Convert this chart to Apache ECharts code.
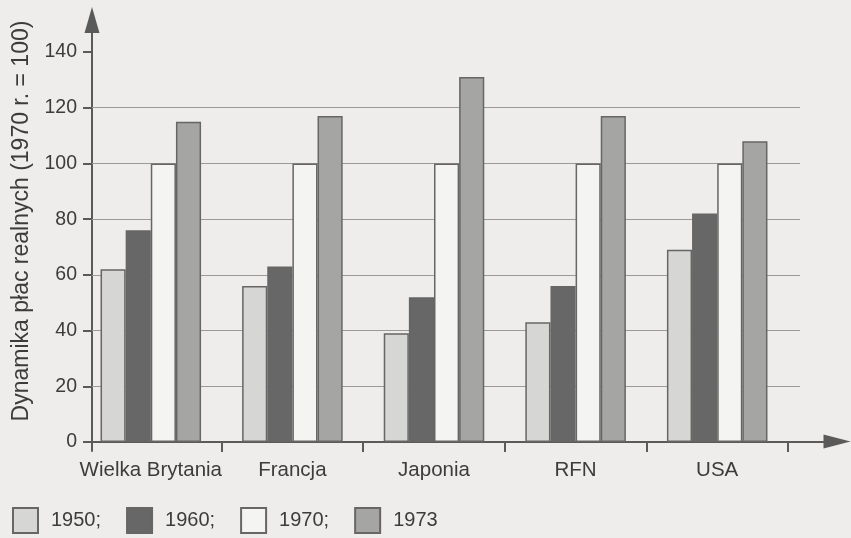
<!DOCTYPE html>
<html>
<head>
<meta charset="utf-8">
<script src="https://cdn.jsdelivr.net/npm/echarts@6/dist/echarts.min.js"></script>
<style>
html,body{margin:0;padding:0;background:#eeedeb;}
#chart{width:851px;height:538px;}
</style>
</head>
<body>
<div id="chart"></div>
<script>
var categories = ['Wielka Brytania', 'Francja', 'Japonia', 'RFN', 'USA'];
var years = ['1950', '1960', '1970', '1973'];
var v1950 = [62, 56, 39, 43, 69];
var v1960 = [76, 63, 52, 56, 82];
var v1970 = [100, 100, 100, 100, 100];
var v1973 = [115, 117, 131, 117, 108];
var gridValues = [20, 40, 60, 80, 100, 120];

var fills = ['#d6d6d4', '#676767', '#f4f4f2', '#a5a5a3'];
var seriesValues = [v1950, v1960, v1970, v1973];
var textColor = '#3c3c3c';
var axisColor = '#5a5a5a';
var font = 'Liberation Sans, Arial, sans-serif';

var chart = echarts.init(document.getElementById('chart'), null, {renderer: 'canvas'});

var series = years.map(function (y, i) {
  return {
    name: y,
    type: 'bar',
    xAxisIndex: 0,
    yAxisIndex: 0,
    barGap: '0%',
    barCategoryGap: '29%',
    z: 2,
    itemStyle: {color: fills[i], borderColor: '#666666', borderWidth: 1.5},
    data: seriesValues[i]
  };
});
series.push({
  name: 'grid',
  type: 'line',
  xAxisIndex: 2,
  yAxisIndex: 2,
  data: [],
  z: 1,
  markLine: {
    z: 1,
    silent: true,
    symbol: 'none',
    label: {show: false},
    lineStyle: {color: '#9a9a9a', width: 1.2, type: 'solid'},
    data: gridValues.map(function (v) { return {yAxis: v}; })
  }
});

chart.setOption({
  backgroundColor: '#eeedeb',
  animation: false,
  textStyle: {fontFamily: font},
  grid: [
    {left: 80, right: 63, top: 52, bottom: 96, outerBoundsMode: 'none', containLabel: false},
    {left: 92, right: 14, top: 20, bottom: 87, outerBoundsMode: 'none', containLabel: false},
    {left: 92, right: 51, top: 52, bottom: 96, outerBoundsMode: 'none', containLabel: false}
  ],
  legend: {
    data: years,
    left: 12,
    top: 507,
    padding: 0,
    itemWidth: 25,
    itemHeight: 25,
    itemGap: 25,
    icon: 'rect',
    formatter: function (name) { return name === '1973' ? name : name + ';'; },
    textStyle: {fontSize: 20, color: textColor, fontFamily: font, padding: [4, 0, 0, 8]}
  },
  xAxis: [
    {
      type: 'category',
      gridIndex: 0,
      data: categories,
      axisLine: {show: false},
      axisTick: {show: true, length: 10, interval: function (index) { return index !== 0; }, lineStyle: {color: axisColor, width: 2}},
      axisLabel: {fontSize: 20.5, color: textColor, margin: 18, interval: 0},
      splitLine: {show: false}
    },
    {
      type: 'value',
      gridIndex: 1,
      min: 0,
      max: 1,
      axisLine: {show: true, onZero: true, symbol: ['none', 'triangle'], symbolSize: [14, 27], lineStyle: {color: axisColor, width: 2}},
      axisTick: {show: false},
      axisLabel: {show: false},
      splitLine: {show: false}
    },
    {
      type: 'value',
      gridIndex: 2,
      min: 0,
      max: 1,
      show: false
    }
  ],
  yAxis: [
    {
      type: 'value',
      gridIndex: 0,
      min: 0,
      max: 140,
      interval: 20,
      position: 'left',
      offset: -12,
      axisLine: {show: false},
      axisTick: {show: true, length: 9, lineStyle: {color: axisColor, width: 2}},
      axisLabel: {fontSize: 19.5, color: textColor, margin: 15},
      splitLine: {show: false}
    },
    {
      type: 'value',
      gridIndex: 1,
      min: -9.5,
      max: 421.5,
      name: 'Dynamika płac realnych (1970 r. = 100)',
      nameLocation: 'middle',
      nameGap: 59,
      nameRotate: 90,
      nameTextStyle: {fontSize: 23, color: textColor, fontFamily: font, padding: [0, 0, 0, 29]},
      axisLine: {show: true, symbol: ['none', 'triangle'], symbolSize: [15, 26], lineStyle: {color: axisColor, width: 2}},
      axisTick: {show: false},
      axisLabel: {show: false},
      splitLine: {show: false}
    },
    {
      type: 'value',
      gridIndex: 2,
      min: 0,
      max: 140,
      show: false
    }
  ],
  series: series
});
</script>
</body>
</html>
